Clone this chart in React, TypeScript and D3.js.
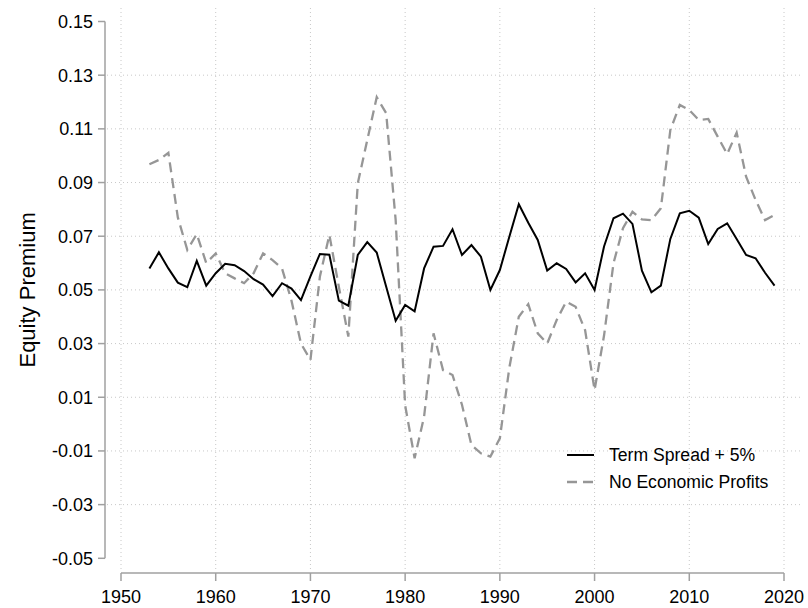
import React from "react";
import * as d3 from "d3";

const years: number[] = d3.range(1953, 2020);

const termSpread: number[] = [
  0.058, 0.064, 0.058, 0.0527, 0.051, 0.0608, 0.0516, 0.0562, 0.0597, 0.0592,
  0.057, 0.054, 0.052, 0.0477, 0.0525, 0.0505, 0.0462, 0.055, 0.0634, 0.0631,
  0.046, 0.0441, 0.063, 0.0678, 0.0639, 0.0512, 0.0385, 0.0444, 0.042, 0.058,
  0.0661, 0.0664, 0.0726, 0.063, 0.0667, 0.0624, 0.05, 0.0574, 0.0698, 0.0819,
  0.075, 0.0686, 0.0572, 0.0599, 0.0578, 0.0528, 0.0562, 0.05, 0.0662, 0.0767,
  0.0784, 0.0746, 0.0572, 0.0491, 0.0516, 0.069, 0.0785, 0.0795, 0.0769, 0.0671,
  0.0727, 0.0748, 0.069, 0.063, 0.0618, 0.0564, 0.0516,
];

const noProfits: number[] = [
  0.0968, 0.0984, 0.1011, 0.077, 0.0649, 0.0708, 0.06, 0.0636, 0.0562, 0.0543,
  0.0525, 0.0562, 0.0636, 0.0611, 0.058, 0.046, 0.030, 0.0239, 0.055, 0.0705,
  0.0512, 0.0326, 0.0897, 0.1058, 0.1218, 0.1158, 0.076, 0.007, -0.0127, 0.0028,
  0.0338, 0.0201, 0.0183, 0.0072, -0.0078, -0.0109, -0.0121, -0.0053, 0.021, 0.040,
  0.0447, 0.0338, 0.030, 0.0388, 0.0456, 0.0437, 0.035, 0.0127, 0.033, 0.060,
  0.073, 0.0791, 0.0763, 0.076, 0.0804, 0.1096, 0.1189, 0.117, 0.1133, 0.1137,
  0.1071, 0.1006, 0.1086, 0.0922, 0.0835, 0.076, 0.0779,
];

const yTicks: number[] = [-0.05, -0.03, -0.01, 0.01, 0.03, 0.05, 0.07, 0.09, 0.11, 0.13, 0.15];
const xTicks: number[] = [1950, 1960, 1970, 1980, 1990, 2000, 2010, 2020];

const seriesNames: string[] = ["Term Spread + 5%", "No Economic Profits"];
const yTitle = "Equity Premium";

const W = 808;
const H = 608;
const FONT = "'Liberation Sans', Arial, Helvetica, sans-serif";

export default function App() {
  const x = d3.scaleLinear().domain([1950, 2020]).range([121, 784]);
  const y = d3.scaleLinear().domain([-0.05, 0.15]).range([558.3, 21.5]);

  const axisX = 105;
  const axisY = 573;
  const axisColor = "#a0a0a0";
  const grayLine = "#969696";

  const line = d3
    .line<[number, number]>()
    .x((d) => x(d[0]))
    .y((d) => y(d[1]));

  const termPath = line(years.map((yr, i) => [yr, termSpread[i]] as [number, number])) || "";
  const noPath = line(years.map((yr, i) => [yr, noProfits[i]] as [number, number])) || "";

  const fmt = (v: number) => (Math.abs(v) < 1e-9 ? "0" : v.toFixed(2));

  return (
    <svg
      width={W}
      height={H}
      style={{ position: "absolute", left: 0, top: 0, background: "#fff" }}
      fontFamily={FONT}
    >
      <rect x={0} y={0} width={W} height={H} fill="#fff" />
      {/* horizontal grid */}
      {yTicks
        .filter((t) => t > -0.049 && t < 0.149)
        .map((t) => (
          <line
            key={"hg" + t}
            x1={axisX + 2}
            x2={800}
            y1={y(t)}
            y2={y(t)}
            stroke="#c8c8c8"
            strokeWidth={1}
            strokeDasharray="1,3"
          />
        ))}
      {/* vertical grid */}
      {xTicks.map((t) => (
        <line
          key={"vg" + t}
          x1={x(t)}
          x2={x(t)}
          y1={8}
          y2={axisY - 2}
          stroke="#c8c8c8"
          strokeWidth={1}
          strokeDasharray="1,3"
        />
      ))}

      {/* y axis */}
      <line x1={axisX} x2={axisX} y1={y(0.15)} y2={y(-0.05)} stroke={axisColor} strokeWidth={1.5} />
      {yTicks.map((t) => (
        <g key={"yt" + t}>
          <line x1={axisX - 7} x2={axisX} y1={y(t)} y2={y(t)} stroke={axisColor} strokeWidth={1.5} />
          <text x={axisX - 12} y={y(t)} dy="0.36em" textAnchor="end" fontSize={18} fill="#000">
            {fmt(t)}
          </text>
        </g>
      ))}

      {/* x axis */}
      <line x1={x(1950)} x2={x(2020)} y1={axisY} y2={axisY} stroke={axisColor} strokeWidth={1.5} />
      {xTicks.map((t) => (
        <g key={"xt" + t}>
          <line x1={x(t)} x2={x(t)} y1={axisY} y2={axisY + 8} stroke={axisColor} strokeWidth={1.5} />
          <text x={x(t)} y={axisY + 24} dy="0.36em" textAnchor="middle" fontSize={18} fill="#000">
            {t}
          </text>
        </g>
      ))}

      {/* y title */}
      <text
        transform={`translate(35, ${y(0.05)}) rotate(-90)`}
        textAnchor="middle"
        fontSize={22}
        fill="#000"
      >
        {yTitle}
      </text>

      {/* series */}
      <path d={noPath} fill="none" stroke={grayLine} strokeWidth={2.3} strokeDasharray="10,6" />
      <path d={termPath} fill="none" stroke="#000" strokeWidth={2} />

      {/* legend */}
      <g>
        <line x1={567} x2={594} y1={455} y2={455} stroke="#000" strokeWidth={2} />
        <text x={609} y={455} dy="0.36em" fontSize={17.6} fill="#000">
          {seriesNames[0]}
        </text>
        <line x1={567} x2={594} y1={482} y2={482} stroke={grayLine} strokeWidth={2.3} strokeDasharray="10,6" />
        <text x={609} y={482} dy="0.36em" fontSize={17.6} fill="#000">
          {seriesNames[1]}
        </text>
      </g>
    </svg>
  );
}
